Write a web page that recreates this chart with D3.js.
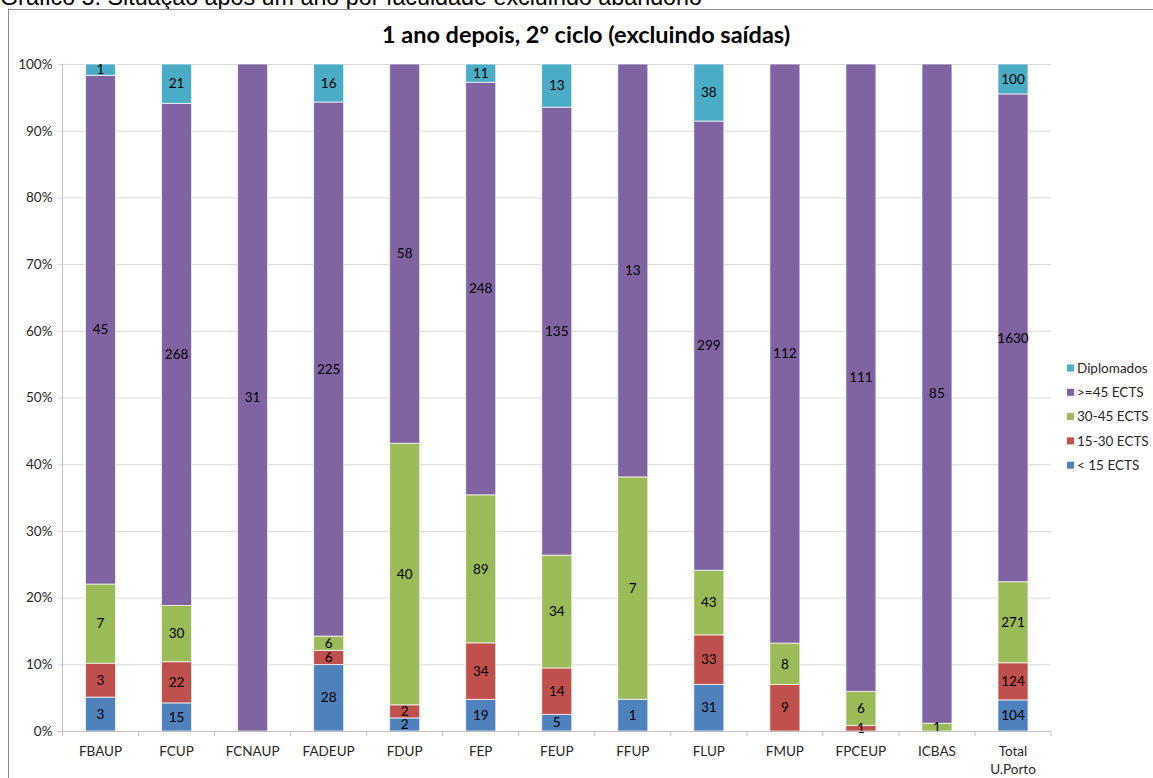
<!DOCTYPE html>
<html>
<head>
<meta charset="utf-8">
<script src="https://cdn.jsdelivr.net/npm/d3@7"></script>
<style>
  html, body { margin: 0; padding: 0; background: #fff; }
  svg { display: block; }
</style>
</head>
<body>
<svg id="chart" width="1153" height="778"></svg>
<script>
// ---- data ----
const categories = ["FBAUP", "FCUP", "FCNAUP", "FADEUP", "FDUP", "FEP", "FEUP", "FFUP", "FLUP", "FMUP", "FPCEUP", "ICBAS", "Total U.Porto"];
const seriesNames = ["< 15 ECTS", "15-30 ECTS", "30-45 ECTS", ">=45 ECTS", "Diplomados"];
const lt15   = [3, 15, 0, 28, 2, 19, 5, 1, 31, 0, 0, 0, 104];
const e15_30 = [3, 22, 0, 6, 2, 34, 14, 0, 33, 9, 1, 0, 124];
const e30_45 = [7, 30, 0, 6, 40, 89, 34, 7, 43, 8, 6, 1, 271];
const ge45   = [45, 268, 31, 225, 58, 248, 135, 13, 299, 112, 111, 85, 1630];
const diplomados = [1, 21, 0, 16, 0, 11, 13, 0, 38, 0, 0, 0, 100];
const yTicks = [0, 0.1, 0.2, 0.3, 0.4, 0.5, 0.6, 0.7, 0.8, 0.9, 1.0];
const colors = ["#4F81BD", "#C0504D", "#9BBB59", "#8064A2", "#4BACC6"];
const captionText = "Gráfico 5: Situação após um ano por faculdade excluindo abandono";
const titleText = "1 ano depois, 2º ciclo (excluindo saídas)";

const seriesValues = [lt15, e15_30, e30_45, ge45, diplomados];
const rows = categories.map((c, i) => {
  const r = { cat: c };
  seriesNames.forEach((s, k) => { r[s] = seriesValues[k][i]; });
  return r;
});

const svg = d3.select("#chart");
const font = "Lato, 'Open Sans', sans-serif";

// caption (cut at top)
svg.append("text").attr("x", 0).attr("y", 5)
  .attr("font-family", "'Liberation Sans', Arial, sans-serif").attr("font-size", 23.3)
  .attr("fill", "#000").text(captionText);

// chart frame
svg.append("rect").attr("x", 8.5).attr("y", 9.5).attr("width", 1300).attr("height", 900)
  .attr("fill", "#fff").attr("stroke", "#8c8c8c").attr("stroke-width", 1);

// title
svg.append("text").attr("x", 586).attr("y", 43).attr("text-anchor", "middle")
  .attr("font-family", font).attr("font-weight", "bold").attr("font-size", 23.5)
  .attr("fill", "#000").text(titleText);

const plotLeft = 62.5, plotRight = 1051, plotTop = 64, plotBottom = 731;
const inner = 0.605;
const x = d3.scaleBand().domain(categories).range([plotLeft, plotRight])
  .paddingInner(inner).paddingOuter(inner / 2);
const y = d3.scaleLinear().domain([0, 1]).range([plotBottom, plotTop]);

// gridlines + y axis
const yAxis = d3.axisLeft(y).tickValues(yTicks).tickFormat(d3.format(".0%"))
  .tickSize(-(plotRight - plotLeft)).tickPadding(10);
const gy = svg.append("g").attr("transform", `translate(${plotLeft},0)`).call(yAxis);
gy.select(".domain").remove();
gy.selectAll(".tick line").attr("stroke", "#d9d9d9").attr("x1", -5);
gy.selectAll(".tick text").attr("font-family", font).attr("font-size", 13.5).attr("fill", "#262626");
svg.append("line").attr("x1", plotLeft).attr("x2", plotLeft).attr("y1", plotTop).attr("y2", plotBottom)
  .attr("stroke", "#bfbfbf");

// stacked bars
const stack = d3.stack().keys(seriesNames).offset(d3.stackOffsetExpand);
const stacked = stack(rows);
const layer = svg.append("g").selectAll("g").data(stacked).join("g")
  .attr("fill", (d, i) => colors[i]);
layer.selectAll("rect").data(d => d.map(p => ({ p, key: d.key }))).join("rect")
  .filter(d => d.p.data[d.key] > 0)
  .attr("x", d => x(d.p.data.cat))
  .attr("width", x.bandwidth())
  .attr("y", d => y(d.p[1]))
  .attr("height", d => y(d.p[0]) - y(d.p[1]))
  .attr("stroke", "#ffffff").attr("stroke-opacity", 0.7).attr("stroke-width", 1);

// data labels
const labels = svg.append("g");
stacked.forEach(s => {
  s.forEach(p => {
    const v = p.data[s.key];
    if (v > 0) {
      labels.append("text")
        .attr("x", x(p.data.cat) + x.bandwidth() / 2)
        .attr("y", (y(p[0]) + y(p[1])) / 2)
        .attr("dy", "0.35em").attr("text-anchor", "middle")
        .attr("font-family", font).attr("font-size", 13.5).attr("fill", "#000")
        .text(v);
    }
  });
});

// x axis line + ticks at boundaries
svg.append("line").attr("x1", plotLeft - 5).attr("x2", plotRight).attr("y1", plotBottom + 0.5).attr("y2", plotBottom + 0.5)
  .attr("stroke", "#bfbfbf");
const bounds = d3.range(categories.length + 1).map(i => plotLeft + i * x.step());
svg.append("g").selectAll("line").data(bounds).join("line")
  .attr("x1", d => d).attr("x2", d => d).attr("y1", plotBottom).attr("y2", plotBottom + 5)
  .attr("stroke", "#bfbfbf");

// x labels
const xl = svg.append("g");
categories.forEach(c => {
  const parts = c === "Total U.Porto" ? ["Total", "U.Porto"] : [c];
  parts.forEach((t, j) => {
    xl.append("text").attr("x", x(c) + x.bandwidth() / 2).attr("y", 751 + j * 18)
      .attr("dy", "0.35em").attr("text-anchor", "middle")
      .attr("font-family", font).attr("font-size", 13.5).attr("fill", "#262626").text(t);
  });
});

// legend (reverse order)
const legendOrder = seriesNames.map((s, i) => ({ s, c: colors[i] })).reverse();
const lg = svg.append("g");
legendOrder.forEach((d, i) => {
  const cy = 368 + i * 24.3;
  lg.append("rect").attr("x", 1067).attr("y", cy - 3.5).attr("width", 7).attr("height", 7).attr("fill", d.c);
  lg.append("text").attr("x", 1077).attr("y", cy).attr("dy", "0.35em")
    .attr("font-family", font).attr("font-size", 13.5).attr("fill", "#262626").text(d.s);
});
</script>
</body>
</html>
